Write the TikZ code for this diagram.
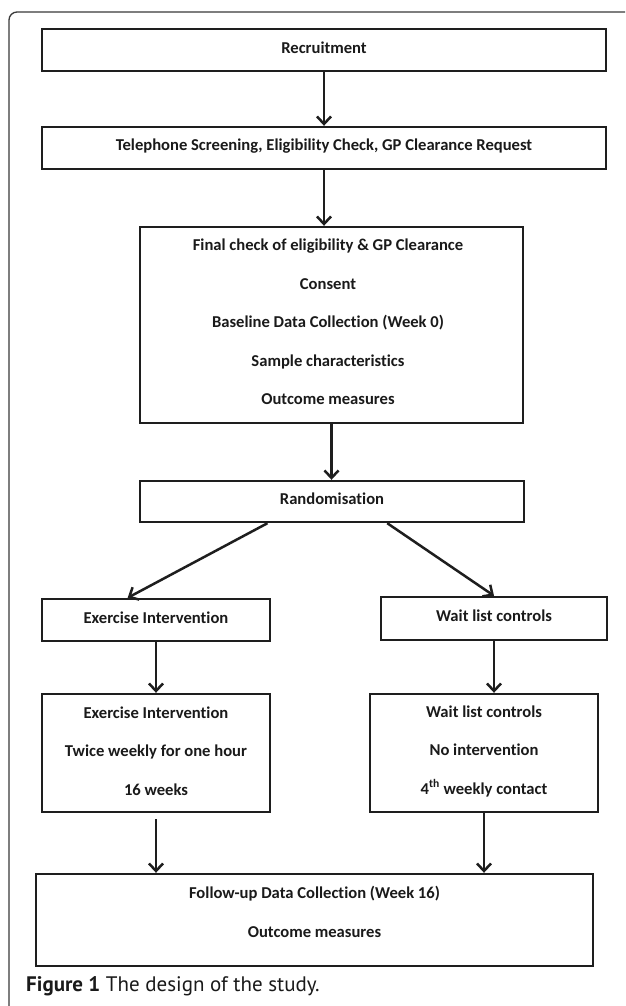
\documentclass[tikz,border=0pt]{standalone}
\usepackage{fontspec}
\newfontfamily\boxfont{Carlito}[Ligatures=NoCommon]
\newfontfamily\capfont{PT Sans}
\usetikzlibrary{arrows.meta,calc}
\definecolor{boxcol}{HTML}{1E1E1E}
\definecolor{txtcol}{HTML}{1A1A1A}
\definecolor{framecol}{HTML}{3A3A3A}
\begin{document}
\begin{tikzpicture}[x=1pt,y=-1pt,
  box/.style={draw=boxcol, line width=2.4pt, rectangle, inner sep=0pt},
  lbl/.style={font=\boxfont\bfseries\fontsize{16.6}{38.5}\selectfont, align=center, text=txtcol, inner sep=0pt},
  arr/.style={draw=boxcol, line width=2.5pt, -{Straight Barb[length=7.5pt,width=14pt]}},
]
\useasboundingbox (0,0) rectangle (625,1006);
\fill[white] (0,0) rectangle (625,1006);
\draw[framecol, line width=1.3pt, rounded corners=8pt] (9,1006) -- (9,12) -- (625,12);

% boxes
\node[box, minimum width=564pt, minimum height=42pt] (rec) at (324,50) {};
\node[box, minimum width=564pt, minimum height=42pt] (tel) at (324,148) {};
\node[box, minimum width=383pt, minimum height=196pt] (fin) at (331.5,325) {};
\node[box, minimum width=384pt, minimum height=41pt] (rand) at (332,501.5) {};
\node[box, minimum width=228pt, minimum height=42pt] (ex) at (156,620) {};
\node[box, minimum width=226pt, minimum height=43pt] (wait) at (494,618.5) {};
\node[box, minimum width=228pt, minimum height=118pt] (ex2) at (156,753) {};
\node[box, minimum width=228pt, minimum height=118pt] (wait2) at (484,753) {};
\node[box, minimum width=557pt, minimum height=92pt] (fu) at (314.5,920) {};

% labels
\node[lbl] (recT) at (324,48) {Recruitment};
\node[lbl] (telT) at (324,146) {Telephone Screening, Eligibility Check, GP Clearance Request};
\node[lbl] (finT) at (328,322) {Final check of eligibility \& GP Clearance\\Consent\\Baseline Data Collection (Week 0)\\Sample characteristics\\Outcome measures};
\node[lbl] (randT) at (332,499) {Randomisation};
\node[lbl] (exT) at (156,618) {Exercise Intervention};
\node[lbl] (waitT) at (494,616) {Wait list controls};
\node[lbl] (ex2T) at (156,751) {Exercise Intervention\\Twice weekly for one hour\\16 weeks};
\node[lbl] (wait2T) at (484,751) {Wait list controls\\No intervention\\4\textsuperscript{th} weekly contact};
\node[lbl] (fuT) at (314.5,912) {Follow-up Data Collection (Week 16)\\Outcome measures};

% connectors
\draw[arr] (rec.south) -- (tel.north);
\draw[arr] (tel.south) -- (tel.south |- fin.north);
\draw[arr] (fin.south) -- (fin.south |- rand.north);
\draw[arr] ($(rand.south west)!0.333!(rand.south east)$) -- ($(ex.north west)!0.377!(ex.north east)$);
\draw[arr] ($(rand.south west)!0.643!(rand.south east)$) -- (wait.north);
\draw[arr] (ex.south) -- (ex2.north);
\draw[arr] (wait.south) -- (wait.south |- wait2.north);
\draw[arr] ([yshift=-6pt]ex2.south) -- (ex2.south |- fu.north);
\draw[arr] (wait2.south) -- (wait2.south |- fu.north);

% caption
\node[anchor=base west, inner sep=0pt, text=txtcol] (cap) at (26,991) {\capfont\fontsize{21}{21}\selectfont\textbf{Figure 1} The design of the study.};
\end{tikzpicture}
\end{document}
